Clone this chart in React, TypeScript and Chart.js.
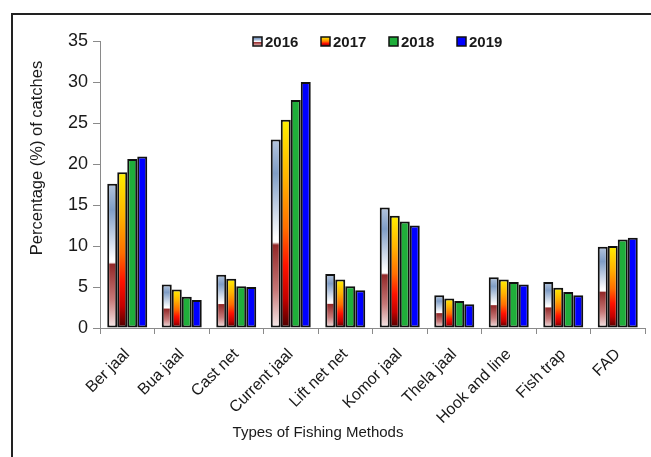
import { useEffect, useRef } from "react";
import { Chart, registerables } from "chart.js";

Chart.register(...registerables);

const FONT = "'Liberation Sans', Arial, Helvetica, sans-serif";

// Fishing methods (x categories)
const methods = [
  "Ber jaal",
  "Bua jaal",
  "Cast net",
  "Current jaal",
  "Lift net net",
  "Komor jaal",
  "Thela jaal",
  "Hook and line",
  "Fish trap",
  "FAD",
];

const years = ["2016", "2017", "2018", "2019"];

// Percentage of catches per method, one array per year
const pct2016 = [17.6, 5.3, 6.5, 23.0, 6.6, 14.7, 4.0, 6.2, 5.6, 9.9];
const pct2017 = [19.0, 4.7, 6.0, 25.4, 5.9, 13.7, 3.6, 5.9, 4.9, 10.0];
const pct2018 = [20.6, 3.8, 5.1, 27.8, 5.1, 13.0, 3.3, 5.6, 4.4, 10.8];
const pct2019 = [20.9, 3.4, 5.0, 30.0, 4.6, 12.5, 2.9, 5.3, 4.0, 11.0];

const yTicks = { min: 0, max: 35, step: 5 };

type Stops = [number, string][];

// Vertical colour ramps used for the first two series
const ramp2016: Stops = [
  [0, "#b5c6de"],
  [0.18, "#7f9dc6"],
  [0.52, "#ffffff"],
  [0.545, "#ffffff"],
  [0.56, "#922828"],
  [0.8, "#c67878"],
  [1, "#f8ecec"],
];
const ramp2017: Stops = [
  [0, "#fff000"],
  [0.28, "#ffb400"],
  [0.52, "#ff6e00"],
  [0.7, "#ff1200"],
  [0.86, "#c40000"],
  [1, "#4a0000"],
];

const seriesFill: (Stops | string)[] = [ramp2016, ramp2017, "#1fae3a", "#0000ff"];
const seriesValues = [pct2016, pct2017, pct2018, pct2019];

function makeGradient(
  ctx: CanvasRenderingContext2D,
  top: number,
  bottom: number,
  stops: Stops
) {
  const g = ctx.createLinearGradient(0, top, 0, bottom);
  stops.forEach(([o, c]) => g.addColorStop(o, c));
  return g;
}

function barFill(fill: Stops | string) {
  if (typeof fill === "string") return fill;
  return (c: any) => {
    const chart = c.chart;
    if (!chart.chartArea || c.type !== "data") return fill[1][1];
    const y = chart.scales.y;
    const top = y.getPixelForValue(c.raw);
    const base = y.getPixelForValue(0);
    return makeGradient(chart.ctx, top, base, fill);
  };
}

// Legend row drawn inside the plot area, above the bars
const yearLegend = {
  id: "yearLegend",
  afterDraw(chart: any) {
    const { ctx, chartArea } = chart;
    const x0 = chartArea.left + 153;
    const cy = chartArea.top + 0.5;
    ctx.save();
    ctx.font = `bold 15px ${FONT}`;
    ctx.textBaseline = "middle";
    ctx.textAlign = "left";
    chart.data.datasets.forEach((ds: any, i: number) => {
      const x = x0 + i * 68;
      const s = 9;
      const fill = seriesFill[i];
      ctx.fillStyle =
        typeof fill === "string" ? fill : makeGradient(ctx, cy - s / 2, cy + s / 2, fill);
      ctx.fillRect(x, cy - s / 2, s, s);
      ctx.lineWidth = 1.5;
      ctx.strokeStyle = "#111";
      ctx.strokeRect(x, cy - s / 2, s, s);
      ctx.fillStyle = "#1a1a1a";
      ctx.fillText(ds.label, x + 12, cy + 1);
    });
    ctx.restore();
  },
};

// Axis titles placed relative to the plot area
const axisTitles = {
  id: "axisTitles",
  afterDraw(chart: any) {
    const { ctx, chartArea } = chart;
    ctx.save();
    ctx.fillStyle = "#1a1a1a";
    ctx.textAlign = "center";
    ctx.textBaseline = "middle";
    ctx.font = `16.5px ${FONT}`;
    ctx.translate(chartArea.left - 63, chartArea.top + 117);
    ctx.rotate(-Math.PI / 2);
    ctx.fillText("Percentage (%) of catches", 0, 0);
    ctx.restore();

    ctx.save();
    ctx.fillStyle = "#1a1a1a";
    ctx.textAlign = "center";
    ctx.textBaseline = "middle";
    ctx.font = `15px ${FONT}`;
    ctx.fillText("Types of Fishing Methods", chartArea.left + 218, chartArea.bottom + 105);
    ctx.restore();
  },
};

export default function App() {
  const ref = useRef<HTMLCanvasElement | null>(null);

  useEffect(() => {
    if (!ref.current) return;
    const chart = new Chart(ref.current, {
      type: "bar",
      data: {
        labels: methods,
        datasets: years.map((yr, i) => ({
          label: yr,
          data: seriesValues[i],
          backgroundColor: barFill(seriesFill[i]) as any,
          borderColor: "#111111",
          borderWidth: 2,
          borderSkipped: false,
          categoryPercentage: 0.734,
          barPercentage: 1.0,
        })),
      },
      options: {
        animation: false,
        responsive: false,
        maintainAspectRatio: false,
        layout: { padding: { left: 0, right: 6, top: 41, bottom: 0 } },
        plugins: {
          legend: { display: false },
          tooltip: { enabled: false },
        },
        scales: {
          x: {
            afterFit: (s: any) => {
              s.height = 129;
            },
            grid: {
              offset: true,
              drawOnChartArea: false,
              drawTicks: true,
              tickLength: 6,
              color: "#8a8a8a",
            },
            border: { color: "#8a8a8a" },
            ticks: {
              autoSkip: false,
              maxRotation: 45,
              minRotation: 45,
              padding: 11,
              color: "#1a1a1a",
              font: { family: FONT, size: 16 },
            },
          },
          y: {
            min: yTicks.min,
            max: yTicks.max,
            afterFit: (s: any) => {
              s.width = 100;
            },
            grid: {
              drawOnChartArea: false,
              drawTicks: true,
              tickLength: 7,
              color: "#8a8a8a",
            },
            border: { color: "#8a8a8a" },
            ticks: {
              stepSize: yTicks.step,
              padding: 5,
              color: "#1a1a1a",
              font: { family: FONT, size: 18 },
            },
          },
        },
      },
      plugins: [yearLegend, axisTitles],
    });
    return () => chart.destroy();
  }, []);

  return (
    <div style={{ position: "fixed", left: 0, top: 0, width: 651, height: 457, background: "#fff", overflow: "hidden" }}>
      <canvas ref={ref} width={651} height={457} style={{ position: "absolute", left: 0, top: 0 }} />
      <div
        style={{
          position: "absolute",
          left: 11,
          top: 13,
          width: 700,
          height: 500,
          borderTop: "2px solid #222",
          borderLeft: "2px solid #222",
          pointerEvents: "none",
        }}
      />
    </div>
  );
}
